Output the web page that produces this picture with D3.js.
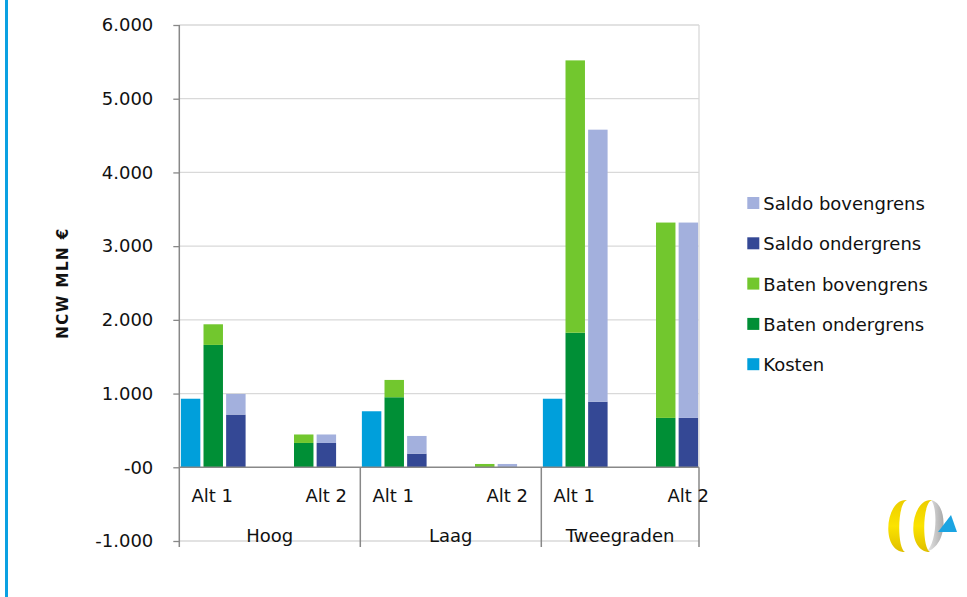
<!DOCTYPE html>
<html>
<head>
<meta charset="utf-8">
<script src="https://cdn.jsdelivr.net/npm/d3@7"></script>
<style>
  html, body { margin: 0; padding: 0; background: #fff; }
  svg { display: block; font-family: "DejaVu Sans", Verdana, sans-serif; }
</style>
</head>
<body>
<svg id="chart" width="967" height="597"></svg>
<script>
// ---------- data ----------
const groups = ["Hoog", "Laag", "Tweegraden"];
const categories = ["Alt 1", "Alt 2", "Alt 1", "Alt 2", "Alt 1", "Alt 2"];
const kosten           = [930, 0, 760, 0, 930, 0];
const batenOndergrens  = [1660, 330, 950, 0, 1825, 670];
const batenBovengrens  = [1940, 445, 1185, 45, 5520, 3320];
const saldoOndergrens  = [715, 330, 185, 0, 890, 670];
const saldoBovengrens  = [995, 445, 425, 45, 4580, 3320];
const yTickValues = [-1000, 0, 1000, 2000, 3000, 4000, 5000, 6000];
const yTickLabels = ["-1.000", "-00", "1.000", "2.000", "3.000", "4.000", "5.000", "6.000"];
const legendItems = ["Saldo bovengrens", "Saldo ondergrens", "Baten bovengrens", "Baten ondergrens", "Kosten"];
const colors = {
  "Kosten": "#009fdb",
  "Baten ondergrens": "#008f36",
  "Baten bovengrens": "#72c72e",
  "Saldo ondergrens": "#344895",
  "Saldo bovengrens": "#a3b0dd"
};

// ---------- layout ----------
const svg = d3.select("#chart");
svg.append("rect").attr("width", 967).attr("height", 597).attr("fill", "#fff");

// left blue rule
svg.append("rect").attr("x", 5).attr("y", 0).attr("width", 3).attr("height", 597).attr("fill", "#0aa1e2");

const plotLeft = 179.3, plotRight = 699, plotTop = 25, catBottom = 547;
const y = d3.scaleLinear().domain([-1000, 6000]).range([541, 25]);
const x = d3.scaleBand().domain(d3.range(categories.length)).range([179.3, 722.3]);
const xs = d3.scaleBand().domain(["Kosten", "Baten", "Saldo", "leeg"])
  .range([0, x.bandwidth()]).paddingInner(0.14).paddingOuter(0.07);

// gridlines
svg.append("g").selectAll("line").data(yTickValues.filter(v => v !== 0)).join("line")
  .attr("x1", plotLeft).attr("x2", plotRight)
  .attr("y1", d => y(d)).attr("y2", d => y(d))
  .attr("stroke", "#d9d9d9").attr("stroke-width", 1.3);
// plot right border
svg.append("line").attr("x1", plotRight).attr("x2", plotRight)
  .attr("y1", plotTop).attr("y2", y(0))
  .attr("stroke", "#d9d9d9").attr("stroke-width", 1.3);

// bars
const barG = svg.append("g");
function seg(key, slot, lo, hi, color) {
  barG.append("g").selectAll("rect").data(d3.range(categories.length)).join("rect")
    .attr("x", i => x(i) + xs(slot))
    .attr("width", xs.bandwidth())
    .attr("y", i => y(Math.max(lo(i), hi(i))))
    .attr("height", i => Math.abs(y(lo(i)) - y(hi(i))))
    .attr("fill", color);
}
seg("Kosten", "Kosten", () => 0, i => kosten[i], colors["Kosten"]);
seg("Baten ondergrens", "Baten", () => 0, i => batenOndergrens[i], colors["Baten ondergrens"]);
seg("Baten bovengrens", "Baten", i => batenOndergrens[i], i => batenBovengrens[i], colors["Baten bovengrens"]);
seg("Saldo ondergrens", "Saldo", () => 0, i => saldoOndergrens[i], colors["Saldo ondergrens"]);
seg("Saldo bovengrens", "Saldo", i => saldoOndergrens[i], i => saldoBovengrens[i], colors["Saldo bovengrens"]);

// y axis
const yAxis = svg.append("g").attr("transform", `translate(${plotLeft},0)`)
  .call(d3.axisLeft(y).tickValues(yTickValues)
    .tickFormat(d => yTickLabels[yTickValues.indexOf(d)])
    .tickSize(6).tickPadding(20));
yAxis.select(".domain").remove();
yAxis.selectAll(".tick line").attr("stroke", "#888").attr("stroke-width", 1.3);
yAxis.selectAll(".tick text").attr("font-size", "18px").attr("fill", "#111")
  .attr("font-family", "DejaVu Sans, Verdana, sans-serif");
svg.append("line").attr("x1", plotLeft).attr("x2", plotLeft)
  .attr("y1", plotTop).attr("y2", catBottom)
  .attr("stroke", "#888").attr("stroke-width", 1.5);

// zero / category axis line
svg.append("line").attr("x1", plotLeft).attr("x2", plotRight)
  .attr("y1", y(0)).attr("y2", y(0))
  .attr("stroke", "#888").attr("stroke-width", 1.5);

// group boundaries
const bounds = [x(2), x(4), plotRight];
svg.append("g").selectAll("line").data(bounds).join("line")
  .attr("x1", d => d).attr("x2", d => d)
  .attr("y1", y(0)).attr("y2", catBottom)
  .attr("stroke", "#888").attr("stroke-width", 1.5);

// category labels
svg.append("g").selectAll("text").data(d3.range(categories.length)).join("text")
  .attr("x", i => i % 2 === 0 ? x(i) + 33 : x(i) + x.bandwidth() - 34)
  .attr("y", 501.5)
  .attr("text-anchor", "middle").attr("font-size", "18px").attr("fill", "#111")
  .text(i => categories[i]);

// group labels
const groupStarts = [plotLeft, x(2), x(4)];
const groupEnds = [x(2), x(4), plotRight];
svg.append("g").selectAll("text").data(groups).join("text")
  .attr("x", (d, i) => (groupStarts[i] + groupEnds[i]) / 2)
  .attr("y", 542)
  .attr("text-anchor", "middle").attr("font-size", "18px").attr("fill", "#111")
  .text(d => d);

// y title
svg.append("text").attr("transform", "translate(68,283) rotate(-90)")
  .attr("text-anchor", "middle").attr("font-size", "15px").attr("font-weight", "bold")
  .attr("letter-spacing", "1.5px").attr("fill", "#111")
  .text("NCW MLN €");

// legend
const lg = svg.append("g").selectAll("g").data(legendItems).join("g")
  .attr("transform", (d, i) => `translate(747.3,${203 + i * 40.3})`);
lg.append("rect").attr("x", 0).attr("y", -6).attr("width", 12).attr("height", 12)
  .attr("fill", d => colors[d]);
lg.append("text").attr("x", 16).attr("y", 7).attr("font-size", "18px").attr("fill", "#111")
  .text(d => d);

// logo (decorative)
const logo = svg.append("g");
const defs = svg.append("defs");
const gy = defs.append("linearGradient").attr("id", "gy").attr("x1", 0).attr("x2", 0).attr("y1", 0).attr("y2", 1);
gy.append("stop").attr("offset", "0").attr("stop-color", "#eccd00");
gy.append("stop").attr("offset", "0.5").attr("stop-color", "#fbe300");
gy.append("stop").attr("offset", "1").attr("stop-color", "#dfbf00");
const gg = defs.append("linearGradient").attr("id", "gg").attr("x1", 0).attr("x2", 1).attr("y1", 0).attr("y2", 0);
gg.append("stop").attr("offset", "0").attr("stop-color", "#ececec");
gg.append("stop").attr("offset", "1").attr("stop-color", "#a9a9a9");
logo.append("path").attr("d", "M931,500 C948,503 949,546 926,552 C937,544 938,507 931,500 Z")
  .attr("fill", "url(#gg)");
logo.append("path").attr("d", "M907,500 C885,498 880,552 905,552 C897,548 897,503 907,500 Z")
  .attr("fill", "url(#gy)");
logo.append("path").attr("d", "M932,500 C910,498 905,552 930,552 C922,548 922,503 932,500 Z")
  .attr("fill", "url(#gy)");
logo.append("path").attr("d", "M951,515 L938,532 L957,532 Z").attr("fill", "#1ba4e2");
</script>
</body>
</html>
